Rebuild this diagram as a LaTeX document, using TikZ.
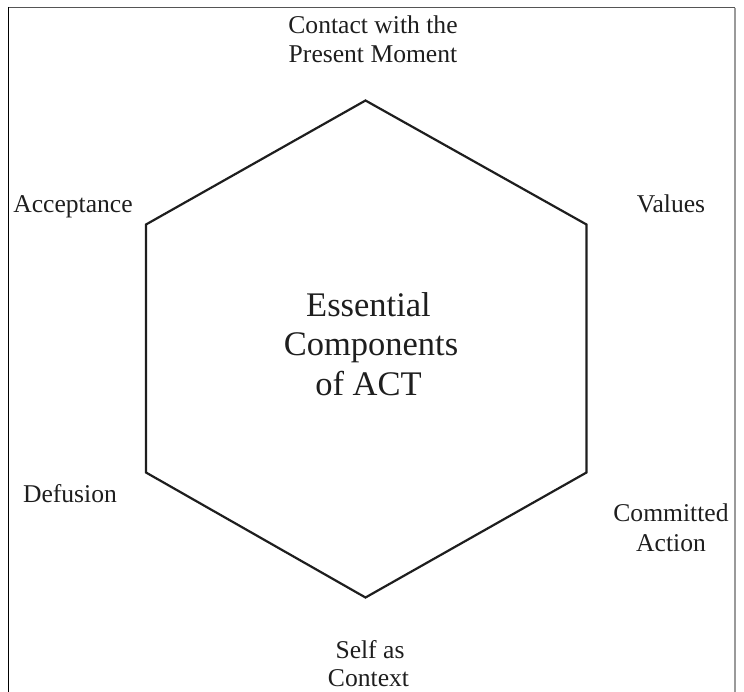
\documentclass[tikz,border=0pt]{standalone}
\usepackage{fontspec}
\setmainfont{Liberation Serif}
\definecolor{ink}{HTML}{1E1E1E}
\definecolor{framegray}{HTML}{555555}
\definecolor{framelight}{HTML}{9A9A9A}
\begin{document}
\begin{tikzpicture}[x=1pt,y=-1pt,
  label/.style={inner sep=0pt,anchor=base,text=ink,font=\fontsize{25.6}{29}\selectfont},
  core/.style={inner sep=0pt,anchor=base,text=ink,font=\fontsize{34.5}{39.5}\selectfont},
  hexline/.style={draw=ink,line width=2.2pt,line join=miter}]
  \useasboundingbox (0,0) rectangle (744,691);
  \clip (0,0) rectangle (744,691);

  % outer frame
  \draw[framegray,line width=1.4pt] (8.5,7.5) -- (735,7.5);
  \draw[framelight,line width=1.2pt] (735,7.5) -- (735,700);
  \draw[black,line width=1.8pt] (8.5,6.8) -- (8.5,700);

  % hexagon corners
  \coordinate (top) at (365.5,100.5);
  \coordinate (ur) at (586.5,224.5);
  \coordinate (lr) at (586.5,472.5);
  \coordinate (bot) at (365.5,597.5);
  \coordinate (ll) at (146,472.5);
  \coordinate (ul) at (146,224.5);
  \draw[hexline] (top) -- (ur) -- (lr) -- (bot) -- (ll) -- (ul) -- cycle;

  % centre title
  \node[core] (t1) at (368.5,316) {Essential};
  \node[core] (t2) at (371,355.5) {Components};
  \node[core] (t3) at (368.5,395) {of ACT};

  % component labels
  \node[label] (c1) at (373,33) {Contact with the};
  \node[label] (c2) at (373,62) {Present Moment};
  \node[label] (acc) at (73,212) {Acceptance};
  \node[label] (val) at (671,212) {Values};
  \node[label] (def) at (70,502) {Defusion};
  \node[label] (ca1) at (671,521) {Committed};
  \node[label] (ca2) at (671,551) {Action};
  \node[label] (sc1) at (370,658) {Self as};
  \node[label] (sc2) at (368.5,686) {Context};
\end{tikzpicture}
\end{document}
